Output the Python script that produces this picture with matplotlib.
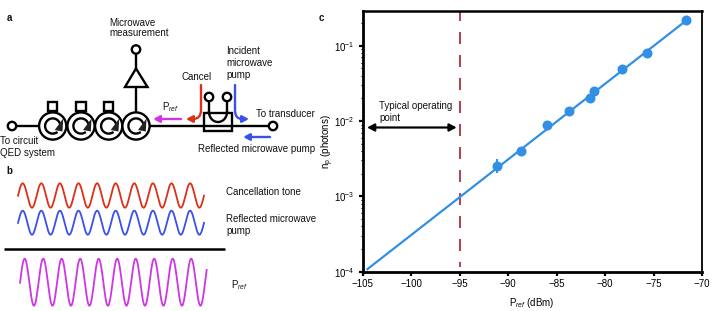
import numpy as np
import matplotlib
matplotlib.use("Agg")
import matplotlib.pyplot as plt
from matplotlib.patches import Circle, Rectangle, Polygon, FancyArrowPatch
from matplotlib.path import Path
from matplotlib.ticker import LogLocator, NullFormatter

# ---------- data (panel c) ----------
p_ref = [-91.1, -88.7, -85.95, -83.75, -81.55, -81.1, -78.2, -75.7, -71.6]
n_p = [0.00255, 0.00407, 0.00885, 0.0137, 0.0204, 0.0253, 0.0495, 0.081, 0.218]
n_p_low = [0.00205, 0.0039, 0.0085, 0.0132, 0.0197, 0.0245, 0.048, 0.079, 0.212]
n_p_high = [0.00318, 0.00425, 0.0092, 0.0142, 0.0211, 0.0261, 0.051, 0.083, 0.224]
fit_x = [-104.5, -71.6]
fit_y = [1.08e-4, 0.218]
x_ticks = [-105, -100, -95, -90, -85, -80, -75, -70]
operating_point = -95

BLUE = "#3190e6"
DRED = "#a3202f"
RED = "#dc3018"
PUMP = "#3a50ee"
MAG = "#cf35e6"
W, H = 721, 311

plt.rcParams.update({
    "font.family": ["Liberation Sans", "DejaVu Sans"],
    "font.size": 7,
    "mathtext.fontset": "custom",
    "mathtext.rm": "Liberation Sans",
    "mathtext.it": "Liberation Sans:italic",
    "mathtext.bf": "Liberation Sans:bold",
    "mathtext.default": "regular",
})

fig = plt.figure(figsize=(W / 100, H / 100), dpi=100)

# ---------- panel c ----------
L, R, T, B = 362.5, 702, 11, 271.7
ax = fig.add_axes([L / W, 1 - B / H, (R - L) / W, (B - T) / H])
ax.set_yscale("log")
ax.set_xlim(-105, -70.07)
ax.set_ylim(1e-4, 0.29)
ax.plot(fit_x, fit_y, color=BLUE, lw=1.6, zorder=3)
yerr = [np.array(n_p) - np.array(n_p_low), np.array(n_p_high) - np.array(n_p)]
ax.errorbar(p_ref, n_p, yerr=yerr, fmt="o", color=BLUE, ms=7.2, mew=0, elinewidth=1.4, zorder=4)
ax.axvline(operating_point, ymin=0.018, color=DRED, lw=1.2, linestyle=(4.2, (7.2, 6.6)), zorder=2)
ax.set_xticks(x_ticks)
ax.set_xticklabels(["\u2212%d" % abs(v) for v in x_ticks])
ax.yaxis.set_major_locator(LogLocator(base=10, numticks=8))
ax.yaxis.set_minor_locator(LogLocator(base=10, subs=np.arange(2, 10) * 0.1, numticks=20))
ax.yaxis.set_minor_formatter(NullFormatter())
ax.tick_params(axis="both", which="major", length=3, width=1.6, labelsize=7, pad=2.5, color="black")
ax.tick_params(axis="y", which="minor", length=1.8, width=0.8)
for side, lw in (("left", 2.0), ("bottom", 2.0), ("top", 1.8), ("right", 1.3)):
    ax.spines[side].set_linewidth(lw)
ax.set_xlabel(r"P$_{\mathit{ref}}$ (dBm)", fontsize=7, labelpad=5)
ax.set_ylabel(r"n$_{p}$ (photons)", fontsize=7, labelpad=-1)

# ---------- overlay in pixel coordinates (schematic, panels a and b) ----------
ov = fig.add_axes([0, 0, 1, 1], facecolor="none")
ov.set_xlim(0, W)
ov.set_ylim(H, 0)
ov.axis("off")
LW = 1.7


def line(xs, ys, c="black", lw=LW, z=2):
    ov.plot(xs, ys, color=c, lw=lw, solid_capstyle="butt", zorder=z)


def terminal(x, y, r=4.2):
    ov.add_patch(Circle((x, y), r, fc="white", ec="black", lw=LW, zorder=5))


def circulator(x, y):
    ov.add_patch(Circle((x, y), 13.6, fc="white", ec="black", lw=LW, zorder=3))
    th = np.radians(np.linspace(25, 300, 50))
    ov.plot(x + 7.6 * np.cos(th), y - 7.6 * np.sin(th), color="black", lw=LW, zorder=4)
    ov.add_patch(Polygon([[x + 10.5, y - 7.5], [x + 9.8, y + 5.5], [x + 2.0, y + 4.0]],
                         fc="#222222", ec="none", zorder=4))


def arrow(path_pts, codes, c):
    ov.add_patch(FancyArrowPatch(path=Path(path_pts, codes), arrowstyle="-|>,head_length=3.8,head_width=2.0",
                                 color=c, lw=1.7, mutation_scale=1, shrinkA=0, shrinkB=0, zorder=6))


Y0 = 126
line([12, 273], [Y0, Y0])
terminal(12, Y0)
terminal(273, Y0)
for cx in (52.7, 81, 108.7):
    ov.add_patch(Rectangle((cx - 4.6, 102), 9.2, 9.2, fc="white", ec="black", lw=LW, zorder=2))
for cx in (52.7, 81, 108.7, 136):
    circulator(cx, Y0)

# amplifier
line([136, 136], [49.5, 113])
ov.add_patch(Polygon([[136, 68.5], [125, 87], [147.5, 87]], fc="white", ec="black", lw=LW, zorder=3, joinstyle="miter"))
terminal(136, 49.5)

# cancellation box
ov.add_patch(Rectangle((204, 113.3), 27.5, 17.5, fc="none", ec="black", lw=LW, zorder=4))
th = np.radians(np.linspace(180, 360, 30))
ov.plot([209, 209], [97, 112], color="black", lw=LW, zorder=4)
ov.plot([227, 227], [97, 112], color="black", lw=LW, zorder=4)
ov.plot(218 + 9 * np.cos(th), 112 - 10 * np.sin(th), color="black", lw=LW, zorder=4)
terminal(209, 97)
terminal(227, 97)

# tone arrows
M, C3 = Path.MOVETO, Path.CURVE3
LT = Path.LINETO
arrow([(201, 85), (201, 110), (201, 119), (193, 119), (186, 119)], [M, LT, C3, C3, LT], RED)
arrow([(235, 85), (235, 110), (235, 119), (242, 119), (249, 119)], [M, LT, C3, C3, LT], PUMP)
arrow([(181, 119), (153, 119)], [M, LT], MAG)
arrow([(270, 137), (243, 137)], [M, LT], PUMP)

# panel b waves (schematic tones)
line([3.5, 225], [249, 249], lw=1.8)
for x0, x1, first_peak, period, top, bot, col in (
    (18, 204, 22.7, 18.6, 183.3, 207.7, RED),
    (18, 204, 22.7, 18.6, 210.7, 234.7, PUMP),
    (20, 206.7, 24.7, 18.5, 258.7, 305.7, MAG),
):
    xs = np.linspace(x0, x1, 500)
    ys = (top + bot) / 2 - (bot - top) / 2 * np.cos(2 * np.pi * (xs - first_peak) / period)
    ov.plot(xs, ys, color=col, lw=1.3, zorder=2)

# typical operating arrow
ov.add_patch(FancyArrowPatch((367, 127.5), (456.7, 127.5), arrowstyle="<|-|>,head_length=4.2,head_width=2.2",
                             color="black", lw=1.6, mutation_scale=1, shrinkA=0, shrinkB=0, zorder=6))

# texts
def txt(x, y, s, **kw):
    ov.text(x, y, s, fontsize=kw.pop("fontsize", 7), va="center", ha=kw.pop("ha", "left"), color="#111111", **kw)


for x, y, s in [(6.5, 18, "a"), (6.5, 171.5, "b"), (318.5, 18, "c")]:
    txt(x, y, s, fontweight="bold")
txt(109.5, 22.5, "Microwave")
txt(109.5, 33.5, "measurement")
txt(226.5, 50.5, "Incident")
txt(226.5, 62.5, "microwave")
txt(226.5, 74.5, "pump")
txt(182, 76.5, "Cancel")
txt(161.5, 107.5, r"P$_{\mathit{ref}}$")
txt(256, 114, "To transducer")
txt(0.5, 141.5, "To circuit")
txt(0.5, 153, "QED system")
txt(198, 148.5, "Reflected microwave pump")
txt(226.5, 192, "Cancellation tone")
txt(226.5, 219.5, "Reflected microwave")
txt(226.5, 231.5, "pump")
txt(231, 285, r"P$_{\mathit{ref}}$")
txt(379, 106, "Typical operating")
txt(379, 118, "point")

fig.savefig("out.png", dpi=100)
